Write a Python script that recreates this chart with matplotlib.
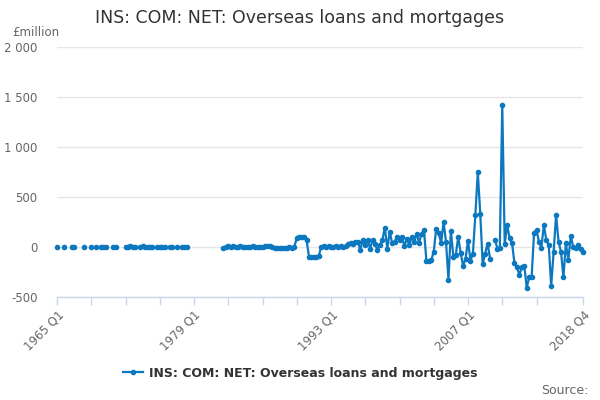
import numpy as np
import matplotlib
matplotlib.use("Agg")
import matplotlib.pyplot as plt
from matplotlib.lines import Line2D

N = None
title = "INS: COM: NET: Overseas loans and mortgages"
unit_label = "£million"
series_name = "INS: COM: NET: Overseas loans and mortgages"

start_year = 1965
# quarterly values, 1965 Q1 .. 1981 Q4 (sparse, None = no data)
values_1965_1981 = [
    0, N, N, 0, N, N, 5, 0, N, N, N, 0, N, N, 0, N,
    5, N, 0, 5, 0, N, N, 5, 0, N, N, N, 5, 0, 10, 5,
    0, N, 5, 10, 5, 0, 5, 0, N, 5, 0, 5, 0, N, 5, 0,
    N, 5, N, 0, 5, 0, N, N, N, N, N, N, N, N, N, N,
    N, N, N, N,
]
# quarterly values, 1982 Q1 .. 2018 Q4
values_1982_2018 = [
    -10, 0, 10, 5, 15, 5, 0, 10, 5, 0, 5, 0, 10, 5, 0, 5,
    0, 10, 15, 10, 0, -5, -10, -5, -10, -5, -10, 0, -5, 0,
    90, 100, 105, 100, 70, -95, -95, -95, -95, -90,
    5, 10, 5, 10, 5, 5, 10, 5, 10, 5, 10,
    30, 45, 35, 55, 50, -30, 75, 20, 70, -15, 70, 35, -30, 20, 70,
    195, -15, 150, 40, 55, 100, 70, 100, 10, 85, 20, 100, 50, 135, 40, 135, 170,
    -140, -140, -130, -45, 185, 140, 40, 250, 55, -325, 160, -95, -80, 100, -60,
    -190, -115, 65, -135, -65, 320, 750, 335, -170, -65, 35, -115, N, 75, -15, -5,
    1425,
    30, 220, 87, 37, -163, -200, -280, -200, -190, -407, -303, -303, 143, 170, 53, -5,
    220, 70, 20, -390, -47, 320, 53, -47, -303, 37, -130, 110, 3, -13, 20, -20, -47,
]

values = values_1965_1981 + values_1982_2018
y = np.array([np.nan if v is None else v for v in values], dtype=float)
x = np.arange(len(y))
quarter_labels = [f"{start_year + i // 4} Q{i % 4 + 1}" for i in range(len(y))]

y_ticks = [-500, 0, 500, 1000, 1500, 2000]
y_tick_labels = ["-500", "0", "500", "1 000", "1 500", "2 000"]
x_label_idx = [0, 56, 112, 168, len(y) - 1]
x_tick_idx = list(range(0, 197, 14)) + [len(y) - 1]

blue = "#0b78bf"
grey = "#666666"

fig = plt.figure(figsize=(6, 4), dpi=100)
ax = fig.add_axes([57 / 600, 1 - 297 / 400, (583 - 57) / 600, (297 - 47) / 400])
ax.set_xlim(0, len(y) - 1)
ax.set_ylim(-500, 2000)

ax.plot(x, y, color=blue, lw=1.6, marker="o", ms=3.0, mec=blue, mfc=blue,
        solid_joinstyle="round", clip_on=False, zorder=3)

for s in ["top", "right", "left"]:
    ax.spines[s].set_visible(False)
ax.spines["bottom"].set_color("#ccd6eb")
ax.spines["bottom"].set_linewidth(1.0)

ax.set_yticks(y_ticks)
ax.set_yticklabels(y_tick_labels)
ax.tick_params(axis="y", length=0, pad=14, labelsize=8.5, labelcolor=grey)
ax.yaxis.grid(True, color="#e6e6e6", lw=1.0)
ax.set_axisbelow(True)

ax.set_xticks(x_tick_idx)
ax.set_xticklabels([quarter_labels[i] if i in x_label_idx else "" for i in x_tick_idx])
ax.tick_params(axis="x", length=6, width=1.0, color="#ccd6eb", labelsize=8.5,
               labelcolor=grey, pad=2)
for lbl in ax.get_xticklabels():
    lbl.set_rotation(45)
    lbl.set_ha("right")
    lbl.set_rotation_mode("anchor")

fig.text(0.5, 1 - 18 / 400, title, ha="center", va="center", fontsize=12.5, color="#333333")
fig.text(12 / 600, 1 - 32 / 400, unit_label, ha="left", va="center", fontsize=8.5, color=grey)

handle = Line2D([0], [0], color=blue, lw=1.6, marker="o", ms=3.0)
leg = fig.legend([handle], [series_name], loc="center", bbox_to_anchor=(0.5, 1 - 373 / 400),
                 frameon=False, handlelength=1.6, handletextpad=0.5,
                 prop={"weight": "bold", "size": 9})
for t in leg.get_texts():
    t.set_color("#333333")

fig.text(588 / 600, 1 - 390 / 400, "Source:", ha="right", va="center", fontsize=9, color=grey)

fig.savefig("out.png", dpi=100)
